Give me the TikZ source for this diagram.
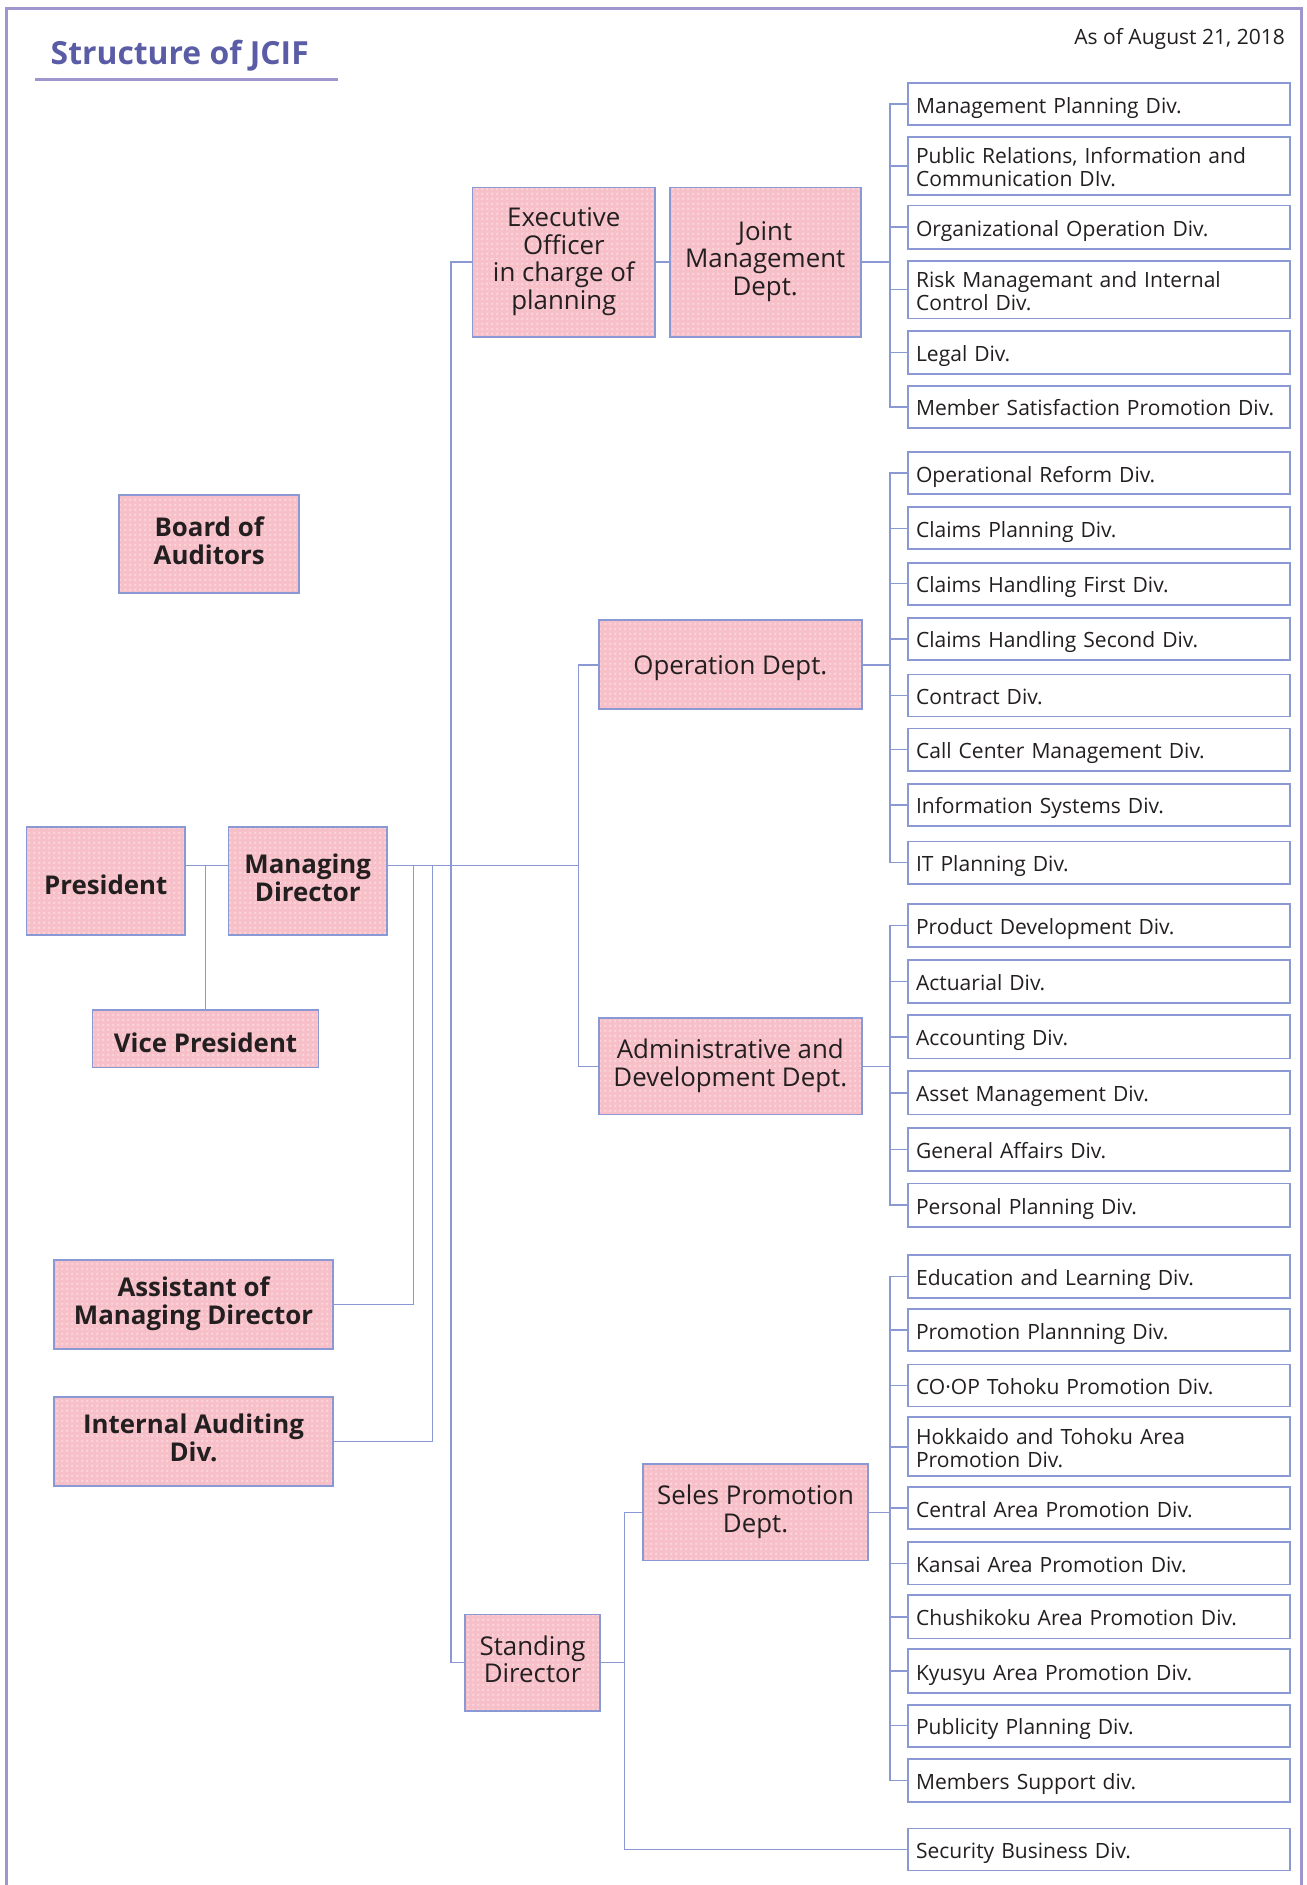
\documentclass[tikz,border=0pt]{standalone}
\usepackage{fontspec}
\setmainfont{Open Sans}
\usepackage{tikz}
\usetikzlibrary{positioning, calc, patterns.meta}
\definecolor{linkblue}{RGB}{138,152,212}
\definecolor{framepurple}{RGB}{158,150,204}
\definecolor{titleblue}{RGB}{90,92,166}
\definecolor{boxpink}{RGB}{247,192,201}
\definecolor{dotpink}{RGB}{252,212,218}
\definecolor{textdark}{RGB}{35,31,32}
\tikzdeclarepattern{name=pinkdots, type=uncolored,
  bounding box={(0,0) and (3.8pt,3.8pt)}, tile size={(3.8pt,3.8pt)},
  code={\fill (1.9pt,1.9pt) circle (1.2pt);}}
\tikzset{
  pinkbox/.style={rectangle, draw=linkblue, line width=1.5pt,
    preaction={fill=boxpink},
    preaction={pattern=pinkdots, pattern color=dotpink},
    align=center, inner sep=1pt, text=textdark},
  headbox/.style={pinkbox, font=\fontsize{21.5}{23.5}\selectfont\bfseries,
    execute at begin node={\rule[-6pt]{0pt}{34.6pt}},
    execute at end node={\rule[-6pt]{0pt}{0pt}}},
  deptbox/.style={pinkbox, font=\fontsize{21.5}{23}\selectfont,
    execute at begin node={\rule[-6pt]{0pt}{27.4pt}},
    execute at end node={\rule[-6pt]{0pt}{0pt}}},
  divbox/.style={rectangle, draw=linkblue, fill=white, line width=1.5pt,
    align=left, text width=304pt, inner xsep=7pt, inner ysep=1pt,
    minimum height=35pt, text=textdark, font=\fontsize{17.5}{19}\selectfont,
    execute at begin node={\rule[-5pt]{0pt}{25pt}},
    execute at end node={\rule[-5pt]{0pt}{0pt}}},
  link/.style={draw=linkblue, line width=1.2pt}
}

\begin{document}
\begin{tikzpicture}[x=1pt, y=-1pt]
  \useasboundingbox (0,0) rectangle (1087,1568);
  % frame and heading
  \draw[framepurple, line width=2.5pt] (5,1568) -- (5,7) -- (1083,7) -- (1083,1568);
  \node[anchor=base west, inner sep=0pt, text=titleblue,
    font=\fontsize{26.5}{28}\selectfont\bfseries] (title) at (42,54) {Structure of JCIF};
  \draw[framepurple, line width=3pt] (29,66) -- (281,66);
  \node[anchor=base east, inner sep=0pt, text=textdark,
    font=\fontsize{17.5}{19}\selectfont] (date) at (1069,37) {As of August 21, 2018};

  % top management
  \node[headbox, minimum width=132pt, minimum height=90pt] (president) at (88,733) {President};
  \node[headbox, minimum width=132pt, minimum height=90pt] (md) at (256,733) {Managing\\Director};
  \node[headbox, minimum width=188pt, minimum height=48pt] (vp) at (171,864) {Vice President};
  \node[headbox, minimum width=150pt, minimum height=81pt] (board) at (174,452.5) {Board of\\Auditors};
  \node[headbox, minimum width=232pt, minimum height=74pt] (assistant) at (161,1085) {Assistant of\\Managing Director};
  \node[headbox, minimum width=232pt, minimum height=74pt] (internal) at (161,1199) {Internal Auditing\\Div.};

  % departments
  \node[deptbox, minimum width=152pt, minimum height=124pt] (exec) at (469,218) {Executive\\Officer\\in charge of\\planning};
  \node[deptbox, minimum width=159pt, minimum height=124pt] (joint) at (636.5,218) {Joint\\Management\\Dept.};
  \node[deptbox, minimum width=219pt, minimum height=74pt] (opdept) at (607.5,553) {Operation Dept.};
  \node[deptbox, minimum width=219pt, minimum height=80pt] (admin) at (607.5,887) {Administrative and\\Development Dept.};
  \node[deptbox, minimum width=112pt, minimum height=80pt] (standing) at (443,1383) {Standing\\Director};
  \node[deptbox, minimum width=187pt, minimum height=80pt] (seles) at (628.5,1258) {Seles Promotion\\Dept.};

  % divisions under Joint Management Dept.
  \node[divbox] (mpd) at (914,86.5) {Management Planning Div.};
  \node[divbox, minimum height=48pt] (pric) at (914,138) {Public Relations, Information and\\Communication DIv.};
  \node[divbox, minimum height=36pt] (orgop) at (914,189) {Organizational Operation Div.};
  \node[divbox, minimum height=48pt] (riskmg) at (914,241) {Risk Managemant and Internal\\Control Div.};
  \node[divbox, minimum height=36pt] (legal) at (914,293) {Legal Div.};
  \node[divbox] (msat) at (914,338.5) {Member Satisfaction Promotion Div.};

  % divisions under Operation Dept.
  \node[divbox] (opreform) at (914,393.5) {Operational Reform Div.};
  \node[divbox] (claimplan) at (914,439.5) {Claims Planning Div.};
  \node[divbox] (claimfirst) at (914,485.5) {Claims Handling First Div.};
  \node[divbox] (claimsecond) at (914,531.5) {Claims Handling Second Div.};
  \node[divbox] (contract) at (914,578.5) {Contract Div.};
  \node[divbox] (callcenter) at (914,623.5) {Call Center Management Div.};
  \node[divbox] (infosys) at (914,669.5) {Information Systems Div.};
  \node[divbox] (itplan) at (914,717.5) {IT Planning Div.};

  % divisions under Administrative and Development Dept.
  \node[divbox, minimum height=36pt] (proddev) at (914,770) {Product Development Div.};
  \node[divbox, minimum height=36pt] (actuarial) at (914,816.5) {Actuarial Div.};
  \node[divbox, minimum height=36pt] (accounting) at (914,862.5) {Accounting Div.};
  \node[divbox, minimum height=36pt] (assetmg) at (914,909) {Asset Management Div.};
  \node[divbox, minimum height=36pt] (genaff) at (914,956) {General Affairs Div.};
  \node[divbox, minimum height=36pt] (persplan) at (914,1002.5) {Personal Planning Div.};

  % divisions under Seles Promotion Dept.
  \node[divbox, minimum height=36pt] (edu) at (914,1062) {Education and Learning Div.};
  \node[divbox] (promplan) at (914,1106.5) {Promotion Plannning Div.};
  \node[divbox] (coop) at (914,1152.5) {CO·OP Tohoku Promotion Div.};
  \node[divbox, minimum height=49pt] (hokkaido) at (914,1203.5) {Hokkaido and Tohoku Area\\Promotion Div.};
  \node[divbox] (central) at (914,1254.5) {Central Area Promotion Div.};
  \node[divbox] (kansai) at (914,1300.5) {Kansai Area Promotion Div.};
  \node[divbox, minimum height=36pt] (chushikoku) at (914,1345) {Chushikoku Area Promotion Div.};
  \node[divbox, minimum height=36pt] (kyusyu) at (914,1390) {Kyusyu Area Promotion Div.};
  \node[divbox] (publicity) at (914,1435.5) {Publicity Planning Div.};
  \node[divbox, minimum height=36pt] (memsupport) at (914,1481) {Members Support div.};
  \node[divbox] (security) at (914,1538.5) {Security Business Div.};

  % connectors from the top
  \coordinate (mdin) at ([yshift=13pt]md.west);
  \coordinate (mdout) at ([yshift=13pt]md.east);
  \draw[link] ([yshift=13pt]president.east) -- (mdin);
  \draw[link] (vp.north) -- (vp.north |- mdin);
  \draw[link] (mdout) -- ([xshift=-16pt]opdept.west |- mdout);
  \draw[link] (assistant.east) -| ([xshift=21pt]mdout);
  \draw[link] (internal.east) -| ([xshift=37pt]mdout);
  \draw[link] (exec.west) -- ++(-17pt,0) |- (standing.west);
  \draw[link] (opdept.west) -- ++(-16pt,0) |- (admin.west);
  \draw[link] (exec.east) -- (joint.west);

  % Seles Promotion spine
  \coordinate (salesspine) at ([xshift=-15pt]seles.west);
  \draw[link] (seles.west) -- (salesspine) |- (security.west);
  \draw[link] (standing.east) -- (standing.east -| salesspine);

  % brackets to the divisions
  \draw[link] (mpd.west) -- ++(-14pt,0) |- (msat.west);
  \draw[link] (joint.east) -- ([xshift=-14pt]mpd.west |- joint.east);
  \draw[link] (opreform.west) -- ++(-14pt,0) |- (itplan.west);
  \draw[link] (opdept.east) -- ([xshift=-14pt]opreform.west |- opdept.east);
  \draw[link] (proddev.west) -- ++(-14pt,0) |- (persplan.west);
  \draw[link] (admin.east) -- ([xshift=-14pt]proddev.west |- admin.east);
  \draw[link] (edu.west) -- ++(-14pt,0) |- (memsupport.west);
  \draw[link] (seles.east) -- ([xshift=-14pt]edu.west |- seles.east);
  \foreach \div in {pric, orgop, riskmg, legal, claimplan, claimfirst, claimsecond,
    contract, callcenter, infosys, actuarial, accounting, assetmg, genaff,
    promplan, coop, hokkaido, central, kansai, chushikoku, kyusyu, publicity}
    \draw[link] (\div.west) -- ++(-14pt,0);
\end{tikzpicture}
\end{document}
